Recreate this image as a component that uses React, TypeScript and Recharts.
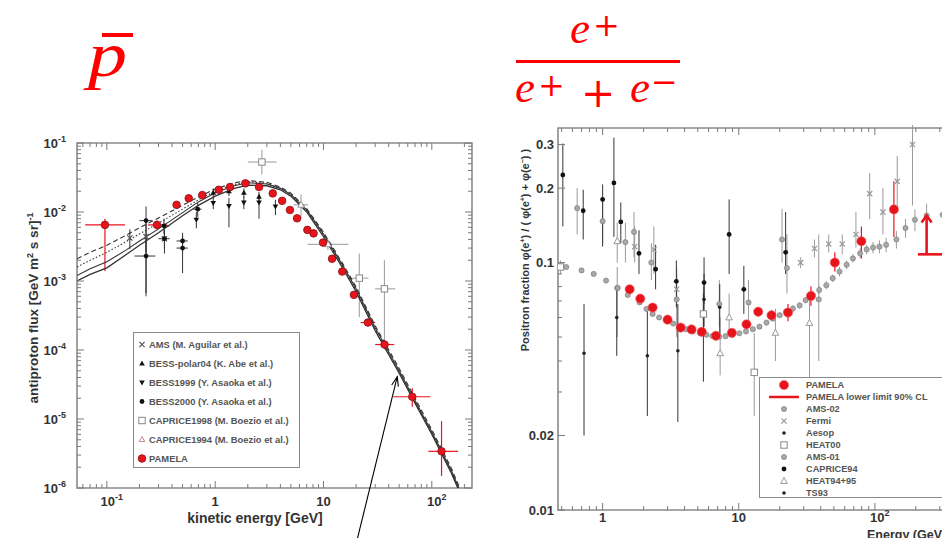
import React from "react";
import {
  ScatterChart,
  Scatter,
  XAxis,
  YAxis,
  ErrorBar,
  ReferenceArea,
  ReferenceLine,
  Legend,
  Label,
} from "recharts";

// ---------- left panel: antiproton flux ----------
const CURVE_E = [0.053, 0.07, 0.1, 0.15, 0.2, 0.3, 0.5, 0.7, 1, 1.5, 2, 3, 4, 5, 7, 10, 15, 20, 30, 50, 70, 100, 150, 200];
const CURVE_A = [1.0e-3, 1.25e-3, 1.55e-3, 2.4e-3, 3.3e-3, 5.0e-3, 8.8e-3, 1.25e-2, 1.7e-2, 2.2e-2, 2.45e-2, 2.4e-2, 2.1e-2, 1.7e-2, 1.0e-2, 4.4e-3, 1.55e-3, 7.0e-4, 1.9e-4, 4.6e-5, 1.7e-5, 6.0e-6, 1.7e-6, 6e-7];
const CURVE_B = [1.2e-3, 1.5e-3, 1.9e-3, 2.8e-3, 3.8e-3, 5.7e-3, 9.8e-3, 1.4e-2, 1.9e-2, 2.4e-2, 2.65e-2, 2.55e-2, 2.2e-2, 1.8e-2, 1.07e-2, 4.8e-3, 1.7e-3, 7.7e-4, 2.1e-4, 5.0e-5, 1.85e-5, 6.5e-6, 1.85e-6, 6.5e-7];
const CURVE_C = [2.1e-3, 2.6e-3, 3.3e-3, 4.6e-3, 5.9e-3, 8.2e-3, 1.25e-2, 1.65e-2, 2.15e-2, 2.65e-2, 2.85e-2, 2.7e-2, 2.3e-2, 1.88e-2, 1.12e-2, 5.1e-3, 1.8e-3, 8.2e-4, 2.25e-4, 5.4e-5, 2.0e-5, 7.0e-6, 2.0e-6, 7e-7];
const CURVE_D = [1.6e-3, 2.0e-3, 2.6e-3, 3.7e-3, 4.8e-3, 6.9e-3, 1.1e-2, 1.5e-2, 2.0e-2, 2.5e-2, 2.75e-2, 2.6e-2, 2.2e-2, 1.78e-2, 1.05e-2, 4.7e-3, 1.65e-3, 7.4e-4, 2.0e-4, 4.8e-5, 1.78e-5, 6.3e-6, 1.8e-6, 6.2e-7];

const PBAR_E = [0.096, 0.29, 0.44, 0.57, 0.76, 1.08, 1.37, 1.9, 2.54, 3.4, 4.15, 4.9, 5.7, 7.1, 8.1, 9.9, 12.0, 14.9, 19.1, 25.7, 36.6, 66, 123];
const PBAR_F = [6.5e-3, 6.5e-3, 1.27e-2, 1.58e-2, 1.76e-2, 2.1e-2, 2.3e-2, 2.6e-2, 2.3e-2, 1.86e-2, 1.45e-2, 1.07e-2, 8.1e-3, 5.5e-3, 4.9e-3, 3.6e-3, 2.1e-3, 1.37e-3, 6.3e-4, 2.5e-4, 1.2e-4, 2.1e-5, 3.4e-6];
const PBAR_ELO = [0.063, 0.24, 0.41, 0.53, 0.71, 1.0, 1.27, 1.77, 2.36, 3.16, 3.86, 4.56, 5.3, 6.6, 7.5, 9.2, 11.1, 13.8, 17.6, 22, 30, 44, 93];
const PBAR_EHI = [0.147, 0.36, 0.47, 0.61, 0.81, 1.16, 1.47, 2.04, 2.72, 3.64, 4.44, 5.24, 6.1, 7.6, 8.7, 10.6, 12.9, 16.0, 20.6, 30, 45, 97, 175];
const PBAR_FLO = [1.4e-3, 5.6e-3, 1.17e-2, 1.46e-2, 1.64e-2, 1.96e-2, 2.15e-2, 2.43e-2, 2.15e-2, 1.74e-2, 1.36e-2, 1.0e-2, 7.6e-3, 5.15e-3, 4.6e-3, 3.35e-3, 1.95e-3, 1.26e-3, 5.7e-4, 2.2e-4, 1.03e-4, 1.5e-5, 1.5e-6];
const PBAR_FHI = [8.0e-3, 7.5e-3, 1.37e-2, 1.7e-2, 1.88e-2, 2.24e-2, 2.45e-2, 2.77e-2, 2.45e-2, 1.98e-2, 1.54e-2, 1.14e-2, 8.6e-3, 5.85e-3, 5.2e-3, 3.85e-3, 2.25e-3, 1.48e-3, 6.9e-4, 2.8e-4, 1.4e-4, 2.8e-5, 9.3e-6];

const AMS_E = [0.163, 0.23, 0.34];
const AMS_F = [4.2e-3, 4.4e-3, 4.1e-3];
const AMS_LO = [2.9e-3, 2.6e-3, 3.0e-3];
const AMS_HI = [5.6e-3, 7.0e-3, 5.4e-3];

const POLAR_E = [0.96, 1.34, 1.84, 2.54];
const POLAR_F = [1.9e-2, 2.0e-2, 1.9e-2, 1.67e-2];
const POLAR_LO = [1.6e-2, 1.7e-2, 1.6e-2, 1.4e-2];
const POLAR_HI = [2.2e-2, 2.3e-2, 2.2e-2, 1.95e-2];

const B99_E = [0.67, 0.96, 1.34, 1.84, 2.54, 3.6];
const B99_F = [7.7e-3, 1.35e-2, 1.22e-2, 1.37e-2, 1.37e-2, 1.2e-2];
const B99_LO = [5.8e-3, 1.1e-2, 6.0e-3, 1.1e-2, 8.0e-3, 9.0e-3];
const B99_HI = [1.0e-2, 1.6e-2, 1.6e-2, 1.65e-2, 1.7e-2, 1.5e-2];

const B00_E = [0.23, 0.23, 0.337, 0.34, 0.5, 0.5, 0.69];
const B00_F = [7.5e-3, 2.3e-3, 6.3e-3, 4.1e-3, 3.8e-3, 3.0e-3, 1.1e-2];
const B00_LO = [6.7e-4, 6.0e-4, 4.8e-3, 2.5e-3, 2.6e-3, 1.3e-3, 8.5e-3];
const B00_HI = [1.2e-2, 4.5e-3, 8.0e-3, 5.6e-3, 5.0e-3, 4.5e-3, 1.35e-2];
const B00_ELO = [0.2, 0.18, 0.3, 0.3, 0.44, 0.44, 0.63];
const B00_EHI = [0.26, 0.28, 0.38, 0.38, 0.56, 0.56, 0.75];

const C98_E = [2.7, 21.4, 36.5];
const C98_F = [5.3e-2, 1.1e-3, 7.7e-4];
const C98_ELO = [2.0, 17, 30];
const C98_EHI = [3.7, 26, 46];
const C98_LO = [3.5e-2, 3.0e-4, 1.1e-4];
const C98_HI = [8.0e-2, 2.5e-3, 2.0e-3];

const C94_E = [6.2, 11];
const C94_F = [1.27e-2, 3.4e-3];
const C94_ELO = [5.3, 7.1];
const C94_EHI = [7.2, 17];
const C94_LO = [8.0e-3, 2.8e-3];
const C94_HI = [1.8e-2, 4.0e-3];

// annotation arrow (from, to) in data units
const ARROW_E = [19.8, 48];
const ARROW_F = [1.45e-7, 4.1e-5];

const LEFT_LEGEND = [
  "AMS (M. Aguilar et al.)",
  "BESS-polar04 (K. Abe et al.)",
  "BESS1999 (Y. Asaoka et al.)",
  "BESS2000 (Y. Asaoka et al.)",
  "CAPRICE1998 (M. Boezio et al.)",
  "CAPRICE1994 (M. Boezio et al.)",
  "PAMELA",
];
const LEFT_X_MAJOR = [0.1, 1, 10, 100];
const LEFT_X_LABEL = [["10", "-1"], ["1", ""], ["10", ""], ["10", "2"]];
const LEFT_Y_MAJOR = [1e-6, 1e-5, 1e-4, 1e-3, 1e-2, 0.1];
const LEFT_Y_LABEL = [["10", "-6"], ["10", "-5"], ["10", "-4"], ["10", "-3"], ["10", "-2"], ["10", "-1"]];

// ---------- right panel: positron fraction ----------
const PAM_E = [1.58, 1.89, 2.33, 3.0, 3.74, 4.5, 5.35, 6.8, 8.9, 11.4, 13.9, 17.4, 23, 33.9, 50.8, 79.6, 138];
const PAM_F = [0.078, 0.0715, 0.0658, 0.0588, 0.0546, 0.0537, 0.0525, 0.0506, 0.052, 0.0563, 0.0633, 0.0612, 0.0628, 0.0733, 0.1, 0.122, 0.164];
const PAM_LO = [0.076, 0.0698, 0.0643, 0.0575, 0.0534, 0.0524, 0.0512, 0.0492, 0.0503, 0.0542, 0.0605, 0.0582, 0.058, 0.067, 0.092, 0.104, 0.127];
const PAM_HI = [0.08, 0.0732, 0.0673, 0.0601, 0.0558, 0.055, 0.0538, 0.052, 0.0537, 0.0584, 0.0661, 0.0642, 0.068, 0.08, 0.11, 0.14, 0.213];

const LIMIT_E = [240];
const LIMIT_LO = [0.108];
const LIMIT_HI = [0.155];
const LIMIT_ELO = [207];
const LIMIT_EHI = [316];

const AMS02_E = [0.54, 0.7, 0.86, 1.06, 1.29, 1.53, 1.87, 2.1, 2.33, 2.6, 2.94, 3.3, 3.67, 4.1, 4.6, 5.2, 5.78, 6.4, 7.2, 8.0, 9.0, 10.1, 11.3, 12.7, 14.2, 16, 17.8, 20, 22.3, 25, 28, 31, 35, 39, 44, 49, 55, 62, 69, 78, 87, 97, 108, 121, 144, 168, 197, 240, 315];
const AMS02_F = [0.096, 0.093, 0.09, 0.0846, 0.079, 0.074, 0.069, 0.065, 0.062, 0.06, 0.0584, 0.0567, 0.0551, 0.0538, 0.0527, 0.0518, 0.0511, 0.0505, 0.0502, 0.0504, 0.0511, 0.0518, 0.0527, 0.0538, 0.0551, 0.0572, 0.0594, 0.0613, 0.0633, 0.0652, 0.0671, 0.0705, 0.074, 0.0775, 0.081, 0.0865, 0.092, 0.098, 0.104, 0.109, 0.113, 0.115, 0.116, 0.118, 0.124, 0.138, 0.149, 0.155, 0.156];
const AMS02_ERR = [0.001, 0.001, 0.001, 0.001, 0.001, 0.001, 0.001, 0.001, 0.001, 0.001, 0.001, 0.001, 0.001, 0.001, 0.001, 0.001, 0.001, 0.001, 0.001, 0.001, 0.001, 0.001, 0.001, 0.001, 0.001, 0.0015, 0.0015, 0.0015, 0.002, 0.002, 0.002, 0.002, 0.003, 0.003, 0.003, 0.003, 0.004, 0.004, 0.004, 0.005, 0.005, 0.006, 0.007, 0.008, 0.01, 0.012, 0.015, 0.018, 0.022];

const FERMI_E = [1.72, 2.38, 3.5, 28.5, 36, 45.8, 57.6, 72.6, 91.6, 114.6, 146, 189];
const FERMI_F = [0.116, 0.113, 0.078, 0.1, 0.114, 0.119, 0.119, 0.13, 0.19, 0.16, 0.213, 0.3];
const FERMI_LO = [0.1, 0.09, 0.065, 0.095, 0.105, 0.11, 0.108, 0.115, 0.15, 0.13, 0.16, 0.17];
const FERMI_HI = [0.14, 0.14, 0.095, 0.105, 0.124, 0.13, 0.13, 0.16, 0.23, 0.2, 0.27, 0.36];

const AESOP_E = [0.73, 1.27, 2.13, 3.57, 5.5];
const AESOP_F = [0.043, 0.06, 0.042, 0.044, 0.053];
const AESOP_LO = [0.02, 0.042, 0.024, 0.0227, 0.033];
const AESOP_HI = [0.068, 0.08, 0.065, 0.068, 0.075];

const HEAT00_E = [0.49, 5.5, 13];
const HEAT00_F = [0.096, 0.062, 0.036];
const HEAT00_LO = [0.09, 0.05, 0.024];
const HEAT00_HI = [0.102, 0.08, 0.052];

const AMS01_E = [0.65, 1.0, 1.28, 1.47, 1.7, 2.28, 3.5, 7.2, 11.8, 20.8, 22.6, 38.7];
const AMS01_F = [0.166, 0.147, 0.079, 0.121, 0.133, 0.1, 0.071, 0.068, 0.069, 0.124, 0.095, 0.071];
const AMS01_LO = [0.13, 0.12, 0.05, 0.1, 0.105, 0.085, 0.05, 0.055, 0.055, 0.1, 0.075, 0.04];
const AMS01_HI = [0.2, 0.18, 0.096, 0.145, 0.16, 0.12, 0.09, 0.085, 0.085, 0.165, 0.13, 0.13];

const CAP94_E = [0.51, 0.72, 1.0, 1.21, 1.36, 1.85, 2.45, 3.48, 5.56, 8.5, 10.9, 22.1];
const CAP94_F = [0.226, 0.162, 0.18, 0.21, 0.146, 0.109, 0.094, 0.084, 0.083, 0.13, 0.078, 0.11];
const CAP94_LO = [0.14, 0.124, 0.116, 0.127, 0.12, 0.09, 0.078, 0.066, 0.068, 0.09, 0.062, 0.09];
const CAP94_HI = [0.303, 0.197, 0.207, 0.32, 0.175, 0.135, 0.118, 0.102, 0.105, 0.18, 0.097, 0.16];

const HEAT95_E = [1.28, 7.3, 8.5, 18.6, 33.1];
const HEAT95_F = [0.122, 0.043, 0.06, 0.052, 0.057];
const HEAT95_LO = [0.1, 0.035, 0.05, 0.04, 0.025];
const HEAT95_HI = [0.145, 0.06, 0.075, 0.065, 0.075];

const TS93_E = [5.56, 7.25];
const TS93_F = [0.071, 0.066];
const TS93_LO = [0.055, 0.05];
const TS93_HI = [0.09, 0.082];

const RIGHT_LEGEND = [
  "PAMELA",
  "PAMELA lower limit 90% CL",
  "AMS-02",
  "Fermi",
  "Aesop",
  "HEAT00",
  "AMS-01",
  "CAPRICE94",
  "HEAT94+95",
  "TS93",
];
const RIGHT_X_MAJOR = [1, 10, 100];
const RIGHT_X_LABEL = [["1", ""], ["10", ""], ["10", "2"]];
const RIGHT_Y_MAJOR = [0.01, 0.02, 0.1, 0.2, 0.3];
const RIGHT_Y_LABEL = [["0.01", ""], ["0.02", ""], ["0.1", ""], ["0.2", ""], ["0.3", ""]];

// ---------- helpers ----------
const FONT = '"Liberation Sans", Arial, Helvetica, sans-serif';
const RED = "#e8141c";

const rows = (xs: number[], ys: number[], ylo?: number[], yhi?: number[], xlo?: number[], xhi?: number[]) =>
  xs.map((x, i) => ({
    x,
    y: ys[i],
    ex: [xlo ? x - xlo[i] : 0, xhi ? xhi[i] - x : 0],
    ey: [ylo ? ys[i] - ylo[i] : 0, yhi ? yhi[i] - ys[i] : 0],
  }));

const curve = (xs: number[], ys: number[]) => xs.map((x, i) => ({ x, y: ys[i] }));

const STEPS = [1, 2, 3, 4, 5, 6, 7, 8, 9];
const DECADES = [1e-7, 1e-6, 1e-5, 1e-4, 1e-3, 1e-2, 0.1, 1, 10, 100, 1000];
const logTicks = (lo: number, hi: number) =>
  DECADES.flatMap((d) => STEPS.map((s) => +(s * d).toPrecision(6))).filter((v) => v >= lo && v <= hi);

function Marker({ kind, cx, cy }: any) {
  if (cx == null || cy == null || isNaN(cx) || isNaN(cy)) return <g />;
  switch (kind) {
    case "pbar":
      return <circle cx={cx} cy={cy} r={3.8} fill={RED} stroke="#8a1016" strokeWidth={0.8} />;
    case "pam":
      return <circle cx={cx} cy={cy} r={4.6} fill={RED} stroke="#f05a5f" strokeWidth={0.6} />;
    case "black":
      return <circle cx={cx} cy={cy} r={2.4} fill="#111" />;
    case "small":
      return <circle cx={cx} cy={cy} r={1.8} fill="#222" />;
    case "grey":
      return <circle cx={cx} cy={cy} r={2.6} fill="#a8a8a8" stroke="#777" strokeWidth={0.6} />;
    case "x":
      return (
        <g stroke="#555" strokeWidth={1.2}>
          <line x1={cx - 2.6} y1={cy - 2.6} x2={cx + 2.6} y2={cy + 2.6} />
          <line x1={cx - 2.6} y1={cy + 2.6} x2={cx + 2.6} y2={cy - 2.6} />
        </g>
      );
    case "xgrey":
      return (
        <g stroke="#999" strokeWidth={1.2}>
          <line x1={cx - 2.6} y1={cy - 2.6} x2={cx + 2.6} y2={cy + 2.6} />
          <line x1={cx - 2.6} y1={cy + 2.6} x2={cx + 2.6} y2={cy - 2.6} />
        </g>
      );
    case "tri":
      return <path d={`M${cx},${cy - 3} L${cx + 2.8},${cy + 2} L${cx - 2.8},${cy + 2} Z`} fill="#111" />;
    case "dtri":
      return <path d={`M${cx},${cy + 3} L${cx + 2.8},${cy - 2} L${cx - 2.8},${cy - 2} Z`} fill="#111" />;
    case "osq":
      return <rect x={cx - 3.2} y={cy - 3.2} width={6.4} height={6.4} fill="#fff" stroke="#888" strokeWidth={1} />;
    case "otri":
      return <path d={`M${cx},${cy - 3.6} L${cx + 3.3},${cy + 2.4} L${cx - 3.3},${cy + 2.4} Z`} fill="#fff" stroke="#999" strokeWidth={1} />;
    case "otrired":
      return <path d={`M${cx},${cy - 3} L${cx + 2.8},${cy + 2} L${cx - 2.8},${cy + 2} Z`} fill="#fff" stroke="#c88" strokeWidth={1} />;
    case "line":
      return <line x1={cx - 15} x2={cx + 15} y1={cy} y2={cy} stroke={RED} strokeWidth={2.5} />;
    case "uparrow":
      return <path d={`M${cx - 5},${cy + 7} L${cx},${cy} L${cx + 5},${cy + 7}`} fill="none" stroke={RED} strokeWidth={2.6} />;
    default:
      return <g />;
  }
}

const mk = (kind: string) => (p: any) => <Marker kind={kind} cx={p.cx} cy={p.cy} />;
const noShape = () => <g />;

const tickFont = { fontFamily: FONT, fontWeight: 700, fontSize: 13, fill: "#333" };

function LogTick(props: any) {
  const { x, y, payload, dir, majors, labels, span, labelGap } = props;
  const i = majors.indexOf(payload.value);
  const len = i >= 0 ? 7 : 4;
  const lab = i >= 0 ? labels[i] : null;
  if (dir === "x") {
    return (
      <g>
        <line x1={x} x2={x} y1={y} y2={y - len} stroke="#7a7a7a" />
        <line x1={x} x2={x} y1={y - span} y2={y - span + len} stroke="#7a7a7a" />
        {lab && (
          <text x={x} y={y + labelGap} dx={lab[1] ? 5 : 0} textAnchor="middle" style={tickFont}>
            {lab[0]}
            {lab[1] && (
              <tspan dy={-6} fontSize={9}>
                {lab[1]}
              </tspan>
            )}
          </text>
        )}
      </g>
    );
  }
  return (
    <g>
      <line x1={x} x2={x + len} y1={y} y2={y} stroke="#7a7a7a" />
      <line x1={x + span} x2={x + span - len} y1={y} y2={y} stroke="#7a7a7a" />
      {lab && (
        <text x={x - labelGap} y={y + 4.5} textAnchor="end" style={tickFont}>
          {lab[0]}
          {lab[1] && (
            <tspan dy={-6} fontSize={9}>
              {lab[1]}
            </tspan>
          )}
        </text>
      )}
    </g>
  );
}

function BoxLegend({ names, kinds, rowH, padTop, markW, markX, fontSize }: any) {
  return (
    <div
      style={{
        width: "100%",
        height: "100%",
        boxSizing: "border-box",
        border: "1.5px solid #8a8a8a",
        background: "#fff",
        paddingTop: padTop,
        fontFamily: FONT,
        fontWeight: 700,
        fontSize,
        color: "#555",
        textAlign: "left",
      }}
    >
      {names.map((n: string, i: number) => (
        <div key={n} style={{ display: "flex", alignItems: "center", height: rowH, whiteSpace: "nowrap" }}>
          <svg width={markW} height={rowH} style={{ flex: "none" }}>
            <Marker kind={kinds[i]} cx={markX} cy={rowH / 2} />
          </svg>
          <span>{n}</span>
        </div>
      ))}
    </div>
  );
}

function ArrowShape(p: any) {
  const { x1, y1, x2, y2 } = p;
  const a = Math.atan2(y2 - y1, x2 - x1);
  const L = 10;
  const w = 0.35;
  return (
    <g stroke="#000" strokeWidth={1.1} fill="none">
      <line x1={x1} y1={y1} x2={x2} y2={y2} />
      <path
        d={`M${x2 - L * Math.cos(a - w)},${y2 - L * Math.sin(a - w)} L${x2},${y2} L${x2 - L * Math.cos(a + w)},${y2 - L * Math.sin(a + w)}`}
      />
    </g>
  );
}

// layout of the two panels
const L_W = 480;
const L_H = 546;
const L_MARGIN = { top: 143, right: 8, bottom: 18, left: 17 };
const L_PLOT_W = 395;
const L_PLOT_H = 345;
const L_XDOM = [0.053, 235];
const L_YDOM = [1e-6, 0.1];

const R_W = 500;
const R_H = 546;
const R_MARGIN = { top: 128, right: 10, bottom: 0, left: 18 };
const R_PLOT_W = 412;
const R_PLOT_H = 382;
const R_XDOM = [0.47, 500];
const R_YDOM = [0.01, 0.35];

const ebBlack = { stroke: "#333", strokeWidth: 1, width: 0 };
const ebGrey = { stroke: "#9a9a9a", strokeWidth: 1, width: 0 };
const ebRed = { stroke: RED, strokeWidth: 1.2, width: 0 };

function LeftChart() {
  const curves = [
    { d: curve(CURVE_E, CURVE_A), dash: undefined, w: 1.3 },
    { d: curve(CURVE_E, CURVE_B), dash: undefined, w: 1.1 },
    { d: curve(CURVE_E, CURVE_C), dash: "5 3", w: 1.1 },
    { d: curve(CURVE_E, CURVE_D), dash: "1.5 2", w: 1.1 },
  ];
  const sets = [
    { d: rows(AMS_E, AMS_F, AMS_LO, AMS_HI), kind: "x", eb: ebBlack },
    { d: rows(POLAR_E, POLAR_F, POLAR_LO, POLAR_HI), kind: "tri", eb: ebBlack },
    { d: rows(B99_E, B99_F, B99_LO, B99_HI), kind: "dtri", eb: ebBlack },
    { d: rows(B00_E, B00_F, B00_LO, B00_HI, B00_ELO, B00_EHI), kind: "black", eb: ebBlack },
    { d: rows(C98_E, C98_F, C98_LO, C98_HI, C98_ELO, C98_EHI), kind: "osq", eb: ebGrey },
    { d: rows(C94_E, C94_F, C94_LO, C94_HI, C94_ELO, C94_EHI), kind: "otri", eb: ebGrey },
    { d: rows(PBAR_E, PBAR_F, PBAR_FLO, PBAR_FHI, PBAR_ELO, PBAR_EHI), kind: "pbar", eb: ebRed },
  ];
  return (
    <ScatterChart width={L_W} height={L_H} margin={L_MARGIN}>
      <XAxis
        type="number"
        dataKey="x"
        scale="log"
        domain={L_XDOM}
        allowDataOverflow
        ticks={logTicks(L_XDOM[0], L_XDOM[1])}
        interval={0}
        axisLine={false}
        tickLine={false}
        tickSize={0}
        tickMargin={0}
        height={40}
        tick={(p: any) => (
          <LogTick {...p} dir="x" majors={LEFT_X_MAJOR} labels={LEFT_X_LABEL} span={L_PLOT_H} labelGap={18} />
        )}
      >
        <Label
          content={(p: any) => (
            <text x={p.viewBox.x + 178} y={p.viewBox.y + 35} textAnchor="middle" style={{ ...tickFont, fontSize: 14 }}>
              kinetic energy [GeV]
            </text>
          )}
        />
      </XAxis>
      <YAxis
        type="number"
        dataKey="y"
        scale="log"
        domain={L_YDOM}
        allowDataOverflow
        ticks={logTicks(L_YDOM[0], L_YDOM[1])}
        interval={0}
        axisLine={false}
        tickLine={false}
        tickSize={0}
        tickMargin={0}
        width={60}
        tick={(p: any) => (
          <LogTick {...p} dir="y" majors={LEFT_Y_MAJOR} labels={LEFT_Y_LABEL} span={L_PLOT_W} labelGap={11} />
        )}
      >
        <Label
          content={(p: any) => {
            const x = p.viewBox.x + 21;
            const y = p.viewBox.y + 165;
            return (
              <text x={x} y={y} transform={`rotate(-90, ${x}, ${y})`} textAnchor="middle" style={{ ...tickFont, fontSize: 13.5 }}>
                antiproton flux [GeV m
                <tspan dy={-5} fontSize={9}>2</tspan>
                <tspan dy={5}> s sr]</tspan>
                <tspan dy={-5} fontSize={9}>-1</tspan>
              </text>
            );
          }}
        />
      </YAxis>
      <ReferenceArea x1={L_XDOM[0]} x2={L_XDOM[1]} y1={L_YDOM[0]} y2={L_YDOM[1]} fill="none" stroke="#8a8a8a" strokeWidth={1.6} ifOverflow="visible" />
      {curves.map((c, i) => (
        <Scatter
          key={"c" + i}
          data={c.d}
          line={{ stroke: "#333", strokeWidth: c.w, strokeDasharray: c.dash }}
          shape={noShape}
          legendType="none"
          isAnimationActive={false}
        />
      ))}
      {sets.map((s, i) => (
        <Scatter key={"s" + i} data={s.d} shape={mk(s.kind)} isAnimationActive={false}>
          <ErrorBar dataKey="ey" direction="y" {...s.eb} isAnimationActive={false} />
          <ErrorBar dataKey="ex" direction="x" {...s.eb} isAnimationActive={false} />
        </Scatter>
      ))}
      <ReferenceLine
        segment={[
          { x: ARROW_E[0], y: ARROW_F[0] },
          { x: ARROW_E[1], y: ARROW_F[1] },
        ]}
        ifOverflow="visible"
        shape={ArrowShape}
      />
      <Legend
        layout="vertical"
        align="center"
        verticalAlign="middle"
        wrapperStyle={{ left: 133, top: 332, width: 167, height: 136 }}
        content={() => (
          <BoxLegend
            names={LEFT_LEGEND}
            kinds={["x", "tri", "dtri", "black", "osq", "otrired", "pbar"]}
            rowH={19}
            padTop={1.5}
            markW={15}
            markX={8}
            fontSize={9.4}
          />
        )}
      />
    </ScatterChart>
  );
}

function RightChart() {
  const sets = [
    { d: rows(AMS01_E, AMS01_F, AMS01_LO, AMS01_HI), kind: "grey", eb: ebGrey },
    { d: rows(FERMI_E, FERMI_F, FERMI_LO, FERMI_HI), kind: "xgrey", eb: ebGrey },
    { d: rows(HEAT95_E, HEAT95_F, HEAT95_LO, HEAT95_HI), kind: "otri", eb: ebGrey },
    { d: rows(HEAT00_E, HEAT00_F, HEAT00_LO, HEAT00_HI), kind: "osq", eb: ebGrey },
    { d: rows(AESOP_E, AESOP_F, AESOP_LO, AESOP_HI), kind: "small", eb: ebBlack },
    { d: rows(TS93_E, TS93_F, TS93_LO, TS93_HI), kind: "small", eb: ebBlack },
    { d: rows(CAP94_E, CAP94_F, CAP94_LO, CAP94_HI), kind: "black", eb: ebBlack },
    { d: rows(AMS02_E, AMS02_F, AMS02_F.map((f, i) => f - AMS02_ERR[i]), AMS02_F.map((f, i) => f + AMS02_ERR[i])), kind: "grey", eb: ebGrey },
    { d: rows(PAM_E, PAM_F, PAM_LO, PAM_HI), kind: "pam", eb: ebRed },
  ];
  const limitBar = rows(LIMIT_E, LIMIT_LO, LIMIT_LO, LIMIT_HI, LIMIT_ELO, LIMIT_EHI);
  const limitHead = rows(LIMIT_E, LIMIT_HI);
  const ebLimit = { stroke: RED, strokeWidth: 2.6, width: 0 };
  return (
    <ScatterChart width={R_W} height={R_H} margin={R_MARGIN}>
      <XAxis
        type="number"
        dataKey="x"
        scale="log"
        domain={R_XDOM}
        allowDataOverflow
        ticks={logTicks(R_XDOM[0], R_XDOM[1])}
        interval={0}
        axisLine={false}
        tickLine={false}
        tickSize={0}
        tickMargin={0}
        height={36}
        tick={(p: any) => (
          <LogTick {...p} dir="x" majors={RIGHT_X_MAJOR} labels={RIGHT_X_LABEL} span={R_PLOT_H} labelGap={12} />
        )}
      >
        <Label
          content={(p: any) => (
            <text x={p.viewBox.x + 309} y={p.viewBox.y + 29} textAnchor="start" style={{ ...tickFont, fontSize: 12.5 }}>
              Energy (GeV)
            </text>
          )}
        />
      </XAxis>
      <YAxis
        type="number"
        dataKey="y"
        scale="log"
        domain={R_YDOM}
        allowDataOverflow
        ticks={logTicks(R_YDOM[0], R_YDOM[1])}
        interval={0}
        axisLine={false}
        tickLine={false}
        tickSize={0}
        tickMargin={0}
        width={60}
        tick={(p: any) => (
          <LogTick {...p} dir="y" majors={RIGHT_Y_MAJOR} labels={RIGHT_Y_LABEL} span={R_PLOT_W} labelGap={4} />
        )}
      >
        <Label
          content={(p: any) => {
            const x = p.viewBox.x + 31;
            const y = p.viewBox.y + 122;
            return (
              <text x={x} y={y} transform={`rotate(-90, ${x}, ${y})`} textAnchor="middle" style={{ ...tickFont, fontSize: 11 }}>
                Positron fraction φ(e
                <tspan dy={-4} fontSize={7}>+</tspan>
                <tspan dy={4}>) / ( φ(e</tspan>
                <tspan dy={-4} fontSize={7}>+</tspan>
                <tspan dy={4}>) + φ(e</tspan>
                <tspan dy={-4} fontSize={7}>−</tspan>
                <tspan dy={4}>) )</tspan>
              </text>
            );
          }}
        />
      </YAxis>
      <ReferenceArea x1={R_XDOM[0]} x2={R_XDOM[1]} y1={R_YDOM[0]} y2={R_YDOM[1]} fill="none" stroke="#8a8a8a" strokeWidth={1.6} ifOverflow="visible" />
      {sets.map((s, i) => (
        <Scatter key={"r" + i} data={s.d} shape={mk(s.kind)} isAnimationActive={false}>
          <ErrorBar dataKey="ey" direction="y" {...s.eb} isAnimationActive={false} />
        </Scatter>
      ))}
      <Scatter data={limitBar} shape={noShape} isAnimationActive={false}>
        <ErrorBar dataKey="ey" direction="y" {...ebLimit} isAnimationActive={false} />
        <ErrorBar dataKey="ex" direction="x" {...ebLimit} isAnimationActive={false} />
      </Scatter>
      <Scatter data={limitHead} shape={mk("uparrow")} isAnimationActive={false} />
      <Legend
        layout="vertical"
        align="center"
        verticalAlign="middle"
        wrapperStyle={{ left: 279, top: 377, width: 185, height: 121 }}
        content={() => (
          <BoxLegend
            names={RIGHT_LEGEND}
            kinds={["pam", "line", "grey", "xgrey", "small", "osq", "grey", "black", "otri", "small"]}
            rowH={12}
            padTop={0.5}
            markW={46}
            markX={24}
            fontSize={9.2}
          />
        )}
      />
    </ScatterChart>
  );
}

function Titles() {
  const serifIt = { fontFamily: '"Liberation Serif", "Times New Roman", serif', fontStyle: "italic" as const, fill: "#ff0000" };
  const sym = { fontFamily: '"DejaVu Serif", serif', fill: "#ff0000" };
  return (
    <svg width={950} height={130} style={{ position: "absolute", left: 0, top: 0 }}>
      <rect x={102} y={33} width={31} height={4} fill="#ff0000" />
      <text x={0} y={76} fontSize={64} style={serifIt} transform="translate(88,0) scale(1.22,1)">
        p
      </text>
      <text x={570} y={43} fontSize={45} style={serifIt}>
        e
      </text>
      <text x={593} y={36} fontSize={32} style={sym}>
        +
      </text>
      <rect x={516} y={60} width={164} height={3} fill="#ff0000" />
      <text x={515} y={102} fontSize={45} style={serifIt}>
        e
      </text>
      <text x={538} y={96} fontSize={32} style={sym}>
        +
      </text>
      <text x={581} y={107} fontSize={41} style={sym}>
        +
      </text>
      <text x={630} y={102} fontSize={45} style={serifIt}>
        e
      </text>
      <text x={651} y={93} fontSize={32} style={sym}>
        −
      </text>
    </svg>
  );
}

export default function App() {
  return (
    <div style={{ position: "relative", width: 950, height: 546, margin: -8, overflow: "hidden", background: "#fff" }}>
      <div style={{ position: "absolute", left: 0, top: 0 }}>
        <LeftChart />
      </div>
      <div style={{ position: "absolute", left: 480, top: 0 }}>
        <RightChart />
      </div>
      <Titles />
    </div>
  );
}
